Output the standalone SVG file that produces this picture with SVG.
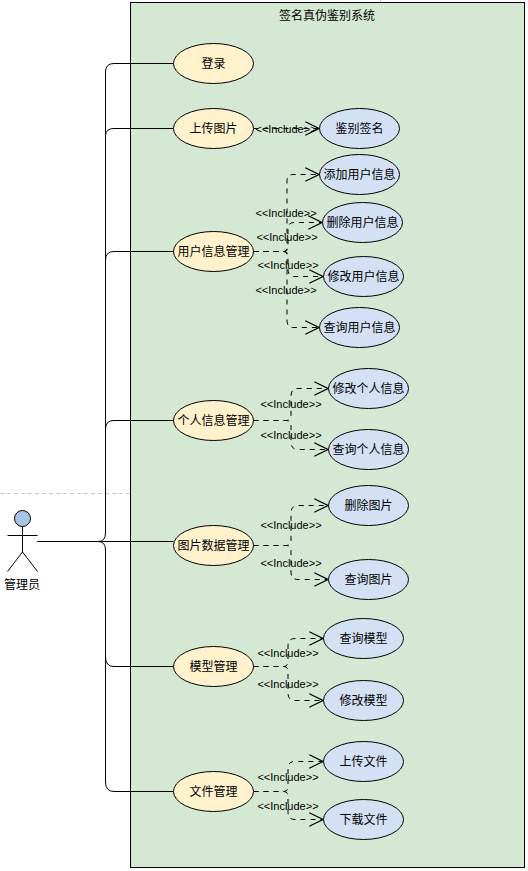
<svg xmlns="http://www.w3.org/2000/svg" width="528" height="871" viewBox="0 0 528 871">
<style>
text{font-family:"Liberation Sans","Noto Sans CJK SC",sans-serif;fill:#000;text-anchor:middle}
.u{font-size:12px}
.i{font-size:11px}
.l{fill:none;stroke:#000;stroke-width:1}
.d{fill:none;stroke:#000;stroke-width:1;stroke-dasharray:5 5}
.h{fill:none;stroke:#000;stroke-width:1}
.a{fill:#fff2cc;stroke:#000;stroke-width:1}
.b{fill:#d4e1f5;stroke:#000;stroke-width:1}
.p{fill:none;stroke:#c8c8c8;stroke-width:1;stroke-dasharray:4 3}
</style>
<defs>
<marker id="o" markerUnits="userSpaceOnUse" markerWidth="16" markerHeight="16" refX="13" refY="7" orient="auto" viewBox="0 0 14 14"><path class="h" d="M1 1L13 7L1 13"/></marker>
</defs>
<path class="p" d="M0 493.500H130M380.500 0V2"/>
<rect id="system" x="130.500" y="2.500" width="394" height="865" fill="#d5e8d4" stroke="#000"/>
<text class="u" x="327" y="20">签名真伪鉴别系统</text>
<g id="connectors">
<path class="l" d="M37 541.500H98Q105.500 541.500 105.500 533V72Q105.500 63.500 114 63.500H173.500"/>
<path class="l" d="M105.500 136Q105.500 128.500 114 128.500H173.500"/>
<path class="l" d="M105.500 260Q105.500 251.500 114 251.500H173.500"/>
<path class="l" d="M105.500 429Q105.500 420.500 114 420.500H173.500"/>
<path class="l" d="M98 541.500H173.500"/>
<path class="l" d="M98 541.500Q105.500 541.500 105.500 550V782Q105.500 791.500 114 791.500H173.500"/>
<path class="l" d="M105.500 657Q105.500 666.500 114 666.500H173.500"/>
<path class="d" marker-end="url(#o)" d="M253.500 128.500H319"/>
<path class="d" marker-end="url(#o)" d="M253.500 251.500H284Q287 251.500 287 247V181Q287 174.500 293 174.500H319"/>
<path class="d" marker-end="url(#o)" d="M253.500 251.500H284Q288 251.500 288 247V229Q288 222.500 294 222.500H322"/>
<path class="d" marker-end="url(#o)" d="M253.500 251.500H284Q288 251.500 288 256V269Q288 276.500 294 276.500H323"/>
<path class="d" marker-end="url(#o)" d="M253.500 251.500H284Q287 251.500 287 256V320Q287 327.500 293 327.500H319"/>
<path class="d" marker-end="url(#o)" d="M253.500 420.500H286Q291 420.500 291 415V396Q291 388.500 298 388.500H328"/>
<path class="d" marker-end="url(#o)" d="M253.500 420.500H286Q291 420.500 291 426V442Q291 449.500 298 449.500H328"/>
<path class="d" marker-end="url(#o)" d="M253.500 545.500H286Q291 545.500 291 540V513Q291 505.500 298 505.500H328"/>
<path class="d" marker-end="url(#o)" d="M253.500 545.500H286Q291 545.500 291 551V572Q291 579.500 298 579.500H328"/>
<path class="d" marker-end="url(#o)" d="M253.500 666.500H284Q288 666.500 288 661V646Q288 638.500 295 638.500H323"/>
<path class="d" marker-end="url(#o)" d="M253.500 666.500H284Q288 666.500 288 672V693Q288 700.500 295 700.500H323"/>
<path class="d" marker-end="url(#o)" d="M253.500 791.500H284Q288 791.500 288 786V768Q288 761.500 295 761.500H323"/>
<path class="d" marker-end="url(#o)" d="M253.500 791.500H284Q288 791.500 288 797V812Q288 819.500 295 819.500H323"/>
</g>
<g id="labels">
<text class="i" x="286" y="133">&lt;&lt;Include&gt;&gt;</text>
<text class="i" x="286" y="217">&lt;&lt;Include&gt;&gt;</text>
<text class="i" x="287" y="241">&lt;&lt;Include&gt;&gt;</text>
<text class="i" x="288" y="269">&lt;&lt;Include&gt;&gt;</text>
<text class="i" x="286" y="294">&lt;&lt;Include&gt;&gt;</text>
<text class="i" x="291" y="408">&lt;&lt;Include&gt;&gt;</text>
<text class="i" x="291" y="439">&lt;&lt;Include&gt;&gt;</text>
<text class="i" x="291" y="529">&lt;&lt;Include&gt;&gt;</text>
<text class="i" x="291" y="567">&lt;&lt;Include&gt;&gt;</text>
<text class="i" x="288" y="657">&lt;&lt;Include&gt;&gt;</text>
<text class="i" x="288" y="688">&lt;&lt;Include&gt;&gt;</text>
<text class="i" x="288" y="781">&lt;&lt;Include&gt;&gt;</text>
<text class="i" x="288" y="810">&lt;&lt;Include&gt;&gt;</text>
</g>
<g id="actor">
<circle cx="22.500" cy="518.500" r="8" fill="#a9c4eb" stroke="#000"/>
<path class="l" d="M22.500 526.500V552M7.500 535.500H37.500M22.500 552L7.500 571.500M22.500 552L37.500 571.500"/>
<text class="u" x="22" y="589">管理员</text>
</g>
<g id="login"><ellipse class="a" cx="213.500" cy="63.500" rx="40" ry="20"/><text class="u" x="213.500" y="68">登录</text></g>
<g id="upload"><ellipse class="a" cx="213.500" cy="128.500" rx="40" ry="20"/><text class="u" x="213.500" y="133">上传图片</text></g>
<g id="usermgmt"><ellipse class="a" cx="213.500" cy="251.500" rx="40" ry="20"/><text class="u" x="213.500" y="256">用户信息管理</text></g>
<g id="selfmgmt"><ellipse class="a" cx="213.500" cy="420.500" rx="40" ry="20"/><text class="u" x="213.500" y="425">个人信息管理</text></g>
<g id="imgmgmt"><ellipse class="a" cx="213.500" cy="545.500" rx="40" ry="20"/><text class="u" x="213.500" y="550">图片数据管理</text></g>
<g id="modelmgmt"><ellipse class="a" cx="213.500" cy="666.500" rx="40" ry="20"/><text class="u" x="213.500" y="671">模型管理</text></g>
<g id="filemgmt"><ellipse class="a" cx="213.500" cy="791.500" rx="40" ry="20"/><text class="u" x="213.500" y="796">文件管理</text></g>
<g id="verify"><ellipse class="b" cx="359.500" cy="128.500" rx="40" ry="20"/><text class="u" x="359.500" y="133">鉴别签名</text></g>
<g id="useradd"><ellipse class="b" cx="359.500" cy="174.500" rx="40" ry="20"/><text class="u" x="359.500" y="179">添加用户信息</text></g>
<g id="userdel"><ellipse class="b" cx="362.500" cy="222.500" rx="40" ry="20"/><text class="u" x="362.500" y="227">删除用户信息</text></g>
<g id="useredit"><ellipse class="b" cx="363.500" cy="276.500" rx="40" ry="20"/><text class="u" x="363.500" y="281">修改用户信息</text></g>
<g id="userquery"><ellipse class="b" cx="359.500" cy="327.500" rx="40" ry="20"/><text class="u" x="359.500" y="332">查询用户信息</text></g>
<g id="selfedit"><ellipse class="b" cx="368.500" cy="388.500" rx="40" ry="20"/><text class="u" x="368.500" y="393">修改个人信息</text></g>
<g id="selfquery"><ellipse class="b" cx="368.500" cy="449.500" rx="40" ry="20"/><text class="u" x="368.500" y="454">查询个人信息</text></g>
<g id="imgdel"><ellipse class="b" cx="368.500" cy="505.500" rx="40" ry="20"/><text class="u" x="368.500" y="510">删除图片</text></g>
<g id="imgquery"><ellipse class="b" cx="368.500" cy="579.500" rx="40" ry="20"/><text class="u" x="368.500" y="584">查询图片</text></g>
<g id="modelquery"><ellipse class="b" cx="363.500" cy="638.500" rx="40" ry="20"/><text class="u" x="363.500" y="643">查询模型</text></g>
<g id="modeledit"><ellipse class="b" cx="363.500" cy="700.500" rx="40" ry="20"/><text class="u" x="363.500" y="705">修改模型</text></g>
<g id="fileup"><ellipse class="b" cx="363.500" cy="761.500" rx="40" ry="20"/><text class="u" x="363.500" y="766">上传文件</text></g>
<g id="filedown"><ellipse class="b" cx="363.500" cy="819.500" rx="40" ry="20"/><text class="u" x="363.500" y="824">下载文件</text></g>
</svg>
